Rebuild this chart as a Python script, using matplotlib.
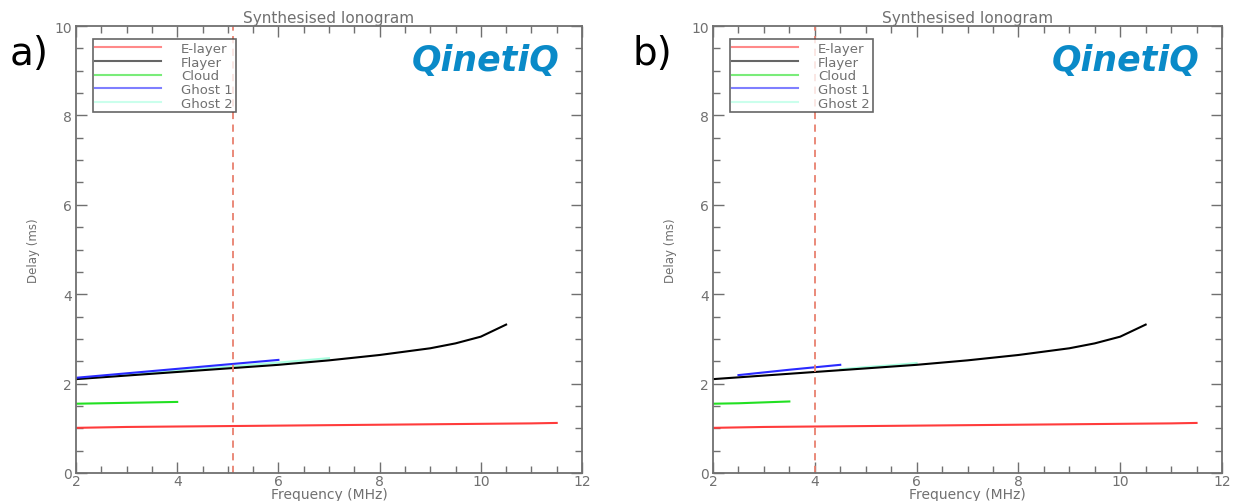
import numpy as np
import matplotlib
matplotlib.use("Agg")
import matplotlib.pyplot as plt
from matplotlib.ticker import MultipleLocator

# F-layer trace, shared by both panels
f_freq = [2, 3, 4, 5, 6, 7, 8, 9, 9.5, 10, 10.5]
f_delay = [2.10, 2.18, 2.26, 2.34, 2.42, 2.52, 2.64, 2.79, 2.90, 3.05, 3.32]

# E-layer trace
e_freq = [2, 3, 4, 5, 6, 7, 8, 9, 10, 11, 11.5]
e_delay = [1.01, 1.03, 1.04, 1.05, 1.06, 1.07, 1.08, 1.09, 1.10, 1.11, 1.12]

# panel a)
a_cloud_freq = [2, 3, 4]
a_cloud_delay = [1.55, 1.57, 1.59]
a_ghost1_freq = [2, 3, 4, 5, 6]
a_ghost1_delay = [2.13, 2.23, 2.33, 2.43, 2.53]
a_ghost2_freq = [2, 3, 4, 5, 6, 7]
a_ghost2_delay = [2.11, 2.20, 2.29, 2.38, 2.47, 2.57]
a_cut = 5.1

# panel b)
b_cloud_freq = [2, 2.5, 3, 3.5]
b_cloud_delay = [1.55, 1.56, 1.58, 1.60]
b_ghost1_freq = [2.5, 3.5, 4.5]
b_ghost1_delay = [2.19, 2.31, 2.42]
b_ghost2_freq = [4.5, 5, 5.5, 6]
b_ghost2_delay = [2.32, 2.37, 2.41, 2.46]
b_cut = 4.0

labels = ["E-layer", "Flayer", "Cloud", "Ghost 1", "Ghost 2"]
colors = ["#ff3b3b", "#000000", "#22e022", "#2a2aff", "#a8ffe0"]

gray = "#707070"

fig = plt.figure(figsize=(12.35, 5.02), dpi=100)
ax_a = fig.add_axes([76 / 1235, 28 / 502, 506 / 1235, 447 / 502])
ax_b = fig.add_axes([713 / 1235, 28 / 502, 509 / 1235, 447 / 502])

panels = [
    (ax_a, "a)", a_cloud_freq, a_cloud_delay, a_ghost1_freq, a_ghost1_delay,
     a_ghost2_freq, a_ghost2_delay, a_cut),
    (ax_b, "b)", b_cloud_freq, b_cloud_delay, b_ghost1_freq, b_ghost1_delay,
     b_ghost2_freq, b_ghost2_delay, b_cut),
]

for ax, tag, cf, cd, g1f, g1d, g2f, g2d, cut in panels:
    ax.plot(e_freq, e_delay, color=colors[0], lw=1.5, label=labels[0])
    ax.plot(g2f, g2d, color=colors[4], lw=1.5, label=labels[4])
    ax.plot(f_freq, f_delay, color=colors[1], lw=1.5, label=labels[1])
    ax.plot(cf, cd, color=colors[2], lw=1.5, label=labels[2])
    ax.plot(g1f, g1d, color=colors[3], lw=1.5, label=labels[3])
    ax.axvline(cut, color="#e8806e", lw=1.3, ls=(0, (4, 3)))

    ax.set_xlim(2, 12)
    ax.set_ylim(0, 10)
    ax.xaxis.set_major_locator(MultipleLocator(2))
    ax.xaxis.set_minor_locator(MultipleLocator(0.5))
    ax.yaxis.set_major_locator(MultipleLocator(2))
    ax.yaxis.set_minor_locator(MultipleLocator(0.5))
    ax.tick_params(which="both", direction="in", top=True, right=True,
                   color=gray, labelcolor=gray, labelsize=10)
    ax.tick_params(axis="x", pad=1)
    ax.tick_params(axis="y", pad=3)
    ax.tick_params(which="major", length=8, width=1)
    ax.tick_params(which="minor", length=5, width=1)
    for s in ax.spines.values():
        s.set_color(gray)
        s.set_linewidth(1.3)

    ax.set_title("Synthesised Ionogram", color=gray, fontsize=11, pad=3)
    ax.set_xlabel("Frequency (MHz)", color=gray, fontsize=10, labelpad=-1)
    ax.set_ylabel("Delay (ms)", color=gray, fontsize=8.5, labelpad=10)

    handles, labs = ax.get_legend_handles_labels()
    order = [labs.index(l) for l in labels]
    leg = ax.legend([handles[i] for i in order], labels, loc="upper left",
                    bbox_to_anchor=(0.02, 0.985), fontsize=9.5, frameon=True,
                    fancybox=False, handlelength=5, handletextpad=1.5,
                    labelspacing=0.05, borderpad=0.2, labelcolor=gray)
    leg.get_frame().set_edgecolor("#404040")
    leg.get_frame().set_linewidth(1.2)
    for h in leg.get_lines():
        h.set_alpha(0.6)

    ax.text(0.955, 0.925, "QinetiQ", transform=ax.transAxes, ha="right",
            va="center", fontsize=25, fontweight="bold", fontstyle="italic",
            color="#0a8ac8")

fig.text(10 / 1235, 1 - 54 / 502, "a)", fontsize=28, va="center", ha="left")
fig.text(632 / 1235, 1 - 54 / 502, "b)", fontsize=28, va="center", ha="left")

fig.savefig("out.png", dpi=100)
